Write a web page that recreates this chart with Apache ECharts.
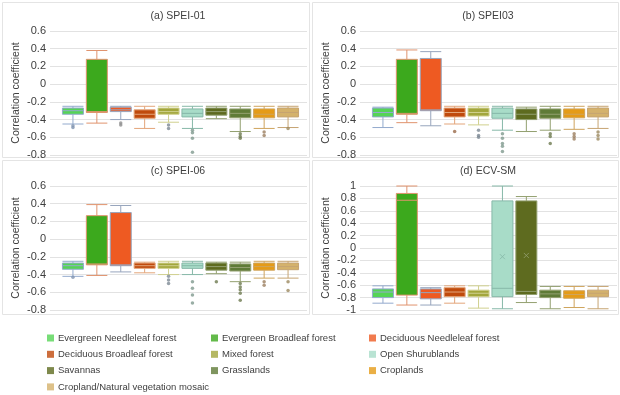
<!DOCTYPE html>
<html><head><meta charset="utf-8">
<script src="https://cdn.jsdelivr.net/npm/echarts@6/dist/echarts.min.js"></script>
<style>html,body{margin:0;padding:0;background:#fff}#c{width:620px;height:395px}</style>
</head><body><div id="c"></div>
<script>
// ---------- data ----------
const categories = ['Evergreen Needleleaf forest','Evergreen Broadleaf forest','Deciduous Needleleaf forest',
  'Deciduous Broadleaf forest','Mixed forest','Open Shurublands','Savannas','Grasslands','Croplands',
  'Cropland/Natural vegetation mosaic'];
const panelTitles = ['(a) SPEI-01','(b) SPEI03','(c) SPEI-06','(d) ECV-SM'];
const yAxisName = 'Correlation coefficient';
// [lower whisker, Q1, median, Q3, upper whisker]
const spei01Boxes = [
  [-0.45,-0.34,-0.30,-0.27,-0.25],[-0.44,-0.32,-0.31,0.28,0.38],[-0.40,-0.31,-0.29,-0.26,-0.25],
  [-0.50,-0.385,-0.34,-0.29,-0.25],[-0.43,-0.34,-0.31,-0.27,-0.25],[-0.50,-0.37,-0.33,-0.28,-0.25],
  [-0.39,-0.35,-0.31,-0.27,-0.25],[-0.535,-0.38,-0.33,-0.28,-0.25],[-0.50,-0.38,-0.34,-0.28,-0.25],
  [-0.49,-0.37,-0.32,-0.27,-0.25]];
const spei01Outliers = [[-0.47,-0.49],[],[-0.44,-0.46],[],[-0.46,-0.50],[-0.52,-0.55,-0.61,-0.77],[],
  [-0.56,-0.59,-0.61],[-0.54,-0.58],[-0.50]];
const spei03Boxes = [
  [-0.49,-0.37,-0.32,-0.27,-0.26],[-0.435,-0.34,-0.33,0.28,0.386],[-0.47,-0.30,-0.29,0.29,0.367],
  [-0.45,-0.37,-0.32,-0.27,-0.25],[-0.46,-0.36,-0.32,-0.27,-0.25],[-0.52,-0.385,-0.33,-0.27,-0.25],
  [-0.535,-0.40,-0.34,-0.28,-0.26],[-0.52,-0.385,-0.34,-0.28,-0.25],[-0.51,-0.38,-0.34,-0.28,-0.25],
  [-0.50,-0.37,-0.33,-0.27,-0.25]];
const spei03Outliers = [[],[],[],[-0.535],[-0.52,-0.58,-0.60],[-0.56,-0.61,-0.67,-0.70,-0.76],[],
  [-0.56,-0.59,-0.67],[-0.56,-0.59,-0.62],[-0.54,-0.58,-0.62]];
const spei06Boxes = [
  [-0.42,-0.34,-0.30,-0.27,-0.25],[-0.41,-0.29,-0.28,0.265,0.39],[-0.37,-0.30,-0.29,0.30,0.38],
  [-0.38,-0.33,-0.30,-0.27,-0.26],[-0.40,-0.33,-0.30,-0.27,-0.25],[-0.40,-0.33,-0.30,-0.27,-0.25],
  [-0.39,-0.35,-0.31,-0.27,-0.26],[-0.48,-0.36,-0.32,-0.28,-0.26],[-0.44,-0.35,-0.31,-0.27,-0.25],
  [-0.44,-0.345,-0.31,-0.27,-0.25]];
const spei06Outliers = [[-0.43],[],[],[],[-0.42,-0.46,-0.50],[-0.48,-0.555,-0.63,-0.72],[-0.48],
  [-0.50,-0.54,-0.57,-0.61,-0.69],[-0.48,-0.52],[-0.48,-0.58]];
const ecvBoxes = [
  [-0.89,-0.80,-0.71,-0.66,-0.61],[-0.92,-0.76,0.77,0.88,1.0],[-0.92,-0.82,-0.72,-0.66,-0.64],
  [-0.89,-0.785,-0.71,-0.64,-0.61],[-0.97,-0.785,-0.73,-0.68,-0.61],[-0.98,-0.785,-0.65,0.76,1.0],
  [-0.88,-0.75,-0.70,0.76,0.83],[-0.98,-0.80,-0.74,-0.68,-0.62],[-0.96,-0.81,-0.75,-0.69,-0.62],
  [-0.98,-0.785,-0.73,-0.68,-0.62]];
const ecvOutliers = [[],[],[],[],[],[],[],[],[],[]];
const ecvMeans = [null,null,null,null,null,-0.14,-0.12,null,null,null];
const yTicksSpei = {min:-0.8, max:0.6, interval:0.2};
const yTicksEcv = {min:-1, max:1, interval:0.2};

// ---------- styles ----------
const fills = ['#55d455','#3ca91d','#ee5a22','#c04a0c','#a2a63c','#a8dcc8','#5e6b1f','#5f7b37','#e59b17','#d4b26c'];
const lines = ['#93aacd','#e0936e','#97a5bd','#e3a57a','#d0d08e','#86b8a8','#93a070','#93a070','#cfa45c','#c6a472'];
const dots  = ['#7f93b0','#b87a60','#8c8c8c','#9a6a4a','#7d8a95','#7f9a8e','#6e7a50','#6e7a50','#9c8060','#9c8a60'];
const FONT = 'Liberation Sans, Arial, sans-serif';
const TXT = '#404040';

const panels = [
  {boxes:spei01Boxes, out:spei01Outliers, y:yTicksSpei, left:50, top:31, means:null},
  {boxes:spei03Boxes, out:spei03Outliers, y:yTicksSpei, left:360, top:31, means:null},
  {boxes:spei06Boxes, out:spei06Outliers, y:yTicksSpei, left:50, top:186, means:null},
  {boxes:ecvBoxes, out:ecvOutliers, y:yTicksEcv, left:360, top:186, means:ecvMeans}
];
const GW = 257, GH = 124;

const grid = [], xAxis = [], yAxis = [], series = [], graphic = [];
panels.forEach((p, k) => {
  const bg = grid.length;
  grid.push({left:p.left, top:p.top, width:GW, height:GH});
  grid.push({left:p.left + 11, top:p.top, width:239, height:GH});
  xAxis.push({gridIndex:bg, type:'value', min:0, max:1, show:false});
  xAxis.push({gridIndex:bg+1, type:'category', data:categories, show:false, boundaryGap:true});
  yAxis.push({gridIndex:bg, type:'value', min:p.y.min, max:p.y.max, interval:p.y.interval,
    axisLine:{show:false}, axisTick:{show:false},
    axisLabel:{fontSize:11, color:TXT, fontFamily:FONT, margin:4},
    splitLine:{lineStyle:{color:'#e2e2e2', width:1}},
    name:yAxisName, nameLocation:'middle', nameGap:28, nameRotate:90,
    nameTextStyle:{fontSize:10.5, color:TXT, fontFamily:FONT}});
  yAxis.push({gridIndex:bg+1, type:'value', min:p.y.min, max:p.y.max, interval:p.y.interval, show:false,
    splitLine:{show:false}});
  series.push({type:'boxplot', name:panelTitles[k], xAxisIndex:bg+1, yAxisIndex:bg+1,
    boxWidth:[21,21], silent:true,
    data:p.boxes.map((b,i)=>({value:b, itemStyle:{color:fills[i], borderColor:lines[i], borderWidth:1}}))});
  const od = [];
  p.out.forEach((arr,i)=>arr.forEach(v=>od.push({value:[categories[i], v], itemStyle:{color:dots[i]}})));
  series.push({type:'scatter', xAxisIndex:bg+1, yAxisIndex:bg+1, symbolSize:3.5, silent:true, data:od});
  if (p.means) {
    const md = [];
    p.means.forEach((v,i)=>{ if (v!==null) md.push({value:[categories[i], v], itemStyle:{borderColor:lines[i]}}); });
    series.push({type:'scatter', xAxisIndex:bg+1, yAxisIndex:bg+1, symbol:'path://M0,0L10,10M10,0L0,10',
      symbolSize:5, silent:true, itemStyle:{color:'none', borderWidth:1}, data:md});
  }
  graphic.push({type:'text', x:p.left + 128, y:p.top - 15, silent:true,
    style:{text:panelTitles[k], fill:TXT, font:'10.5px ' + FONT, align:'center', verticalAlign:'middle'}});
});
// panel borders
[[2,2,307,155],[312,2,306,155],[2,160,307,154],[312,160,306,154]].forEach(r=>{
  graphic.push({type:'rect', shape:{x:r[0]+0.5,y:r[1]+0.5,width:r[2],height:r[3]}, z:-10, silent:true,
    style:{fill:'none', stroke:'#e4e4e4', lineWidth:1}});
});
// legend entries
categories.forEach((c,i)=>series.push({type:'scatter', name:c, xAxisIndex:1, yAxisIndex:1, data:[],
  itemStyle:{color:fills[i]}}));
const legendCols = [[0,3,6,9],[1,4,7],[2,5,8]];
const legendLeft = [47, 211, 369];
const legend = legendCols.map((col,j)=>({orient:'vertical', left:legendLeft[j], top:332, padding:0,
  itemWidth:7, itemHeight:7, itemGap:4.3, icon:'rect', selectedMode:false,
  textStyle:{fontSize:9.5, color:TXT, fontFamily:FONT, lineHeight:12, padding:[0,0,0,-1]},
  data:col.map(i=>categories[i])}));

const chart = echarts.init(document.getElementById('c'), null, {renderer:'canvas'});
chart.setOption({animation:false, backgroundColor:'#fff', grid, xAxis, yAxis, series, legend, graphic});
</script></body></html>
